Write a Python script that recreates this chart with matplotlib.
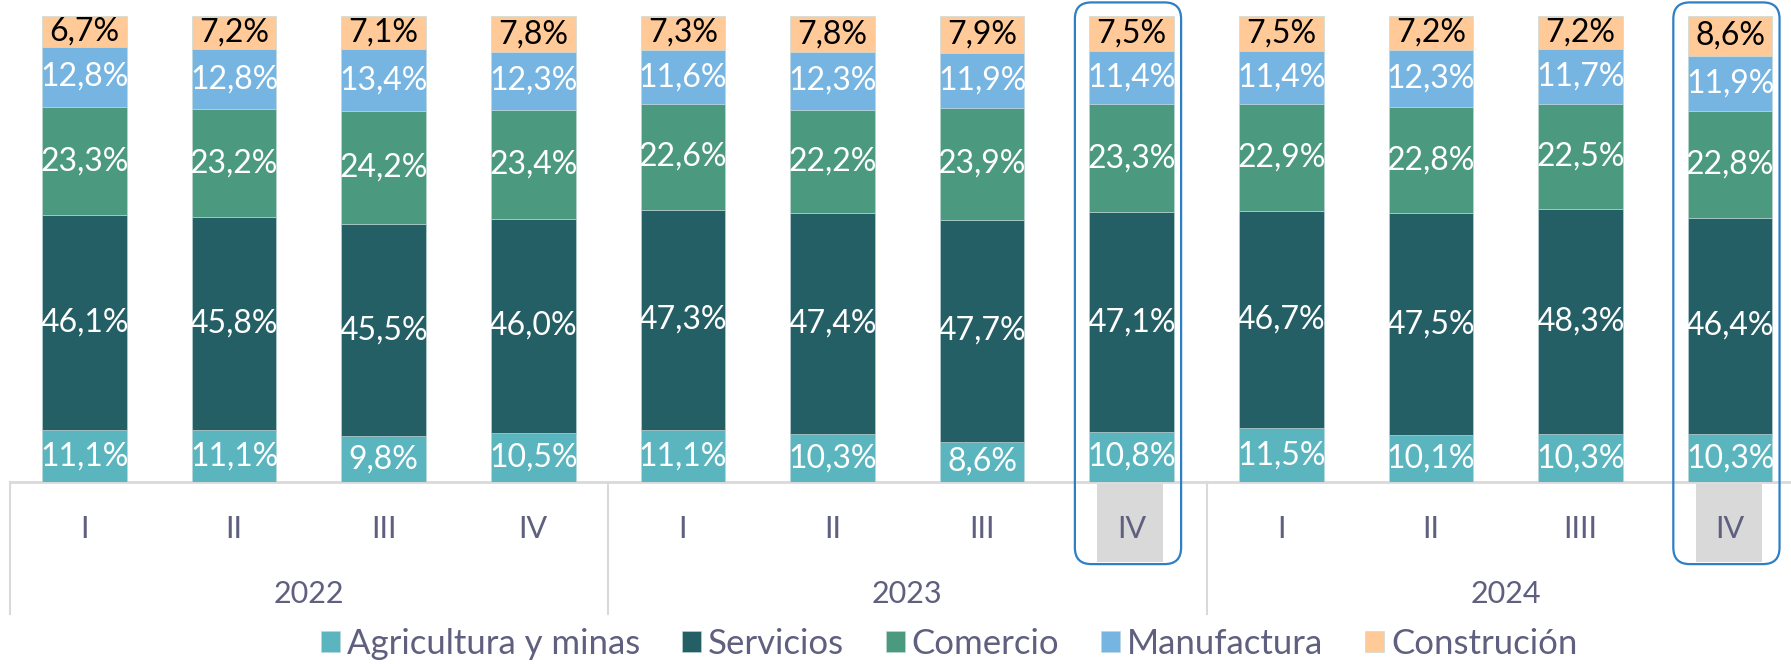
import numpy as np
import matplotlib.pyplot as plt
from matplotlib.patches import FancyBboxPatch, Rectangle

plt.rcParams['font.family'] = ['Lato', 'DejaVu Sans']

quarters = ["I", "II", "III", "IV", "I", "II", "III", "IV", "I", "II", "IIII", "IV"]
years = ["2022", "2023", "2024"]
highlight = [7, 11]

sectors = ["Agricultura y minas", "Servicios", "Comercio", "Manufactura", "Construción"]
colors = ["#5AB5BF", "#255F66", "#4B9A80", "#76B5E2", "#FFCA98"]
text_colors = ["white", "white", "white", "white", "black"]

agricultura = [11.1, 11.1, 9.8, 10.5, 11.1, 10.3, 8.6, 10.8, 11.5, 10.1, 10.3, 10.3]
servicios = [46.1, 45.8, 45.5, 46.0, 47.3, 47.4, 47.7, 47.1, 46.7, 47.5, 48.3, 46.4]
comercio = [23.3, 23.2, 24.2, 23.4, 22.6, 22.2, 23.9, 23.3, 22.9, 22.8, 22.5, 22.8]
manufactura = [12.8, 12.8, 13.4, 12.3, 11.6, 12.3, 11.9, 11.4, 11.4, 12.3, 11.7, 11.9]
construccion = [6.7, 7.2, 7.1, 7.8, 7.3, 7.8, 7.9, 7.5, 7.5, 7.2, 7.2, 8.6]

series = [agricultura, servicios, comercio, manufactura, construccion]
vals = np.array(series)
shares = vals / vals.sum(axis=0) * 100

W, H, DPI = 17.91, 6.64, 100
fig = plt.figure(figsize=(W, H), dpi=DPI)
ax_l, ax_b, ax_w, ax_h = 0.0054, 0.274, 1.0024, 0.702
ax = fig.add_axes([ax_l, ax_b, ax_w, ax_h])
n = len(quarters)
x = np.arange(n)
ax.set_xlim(-0.5, n - 0.5)
ax.set_ylim(0, 100)
ax.axis("off")

# rounded highlight boxes (drawn first, behind bars)
px_x = ax_w * W * DPI / n
px_y = ax_h * H * DPI / 100
aspect = px_x / px_y
for i in highlight:
    ax.add_patch(Rectangle((i - 0.23, -17.2), 0.44, 16.7, facecolor="#D9D9D9",
                           edgecolor="none", clip_on=False, zorder=0))
    ax.add_patch(FancyBboxPatch((i - 0.38, -17.6), 0.71, 120.5,
                                boxstyle="round,pad=0,rounding_size=0.11",
                                mutation_aspect=aspect, facecolor="none",
                                edgecolor="#2E7FC4", lw=1.6, clip_on=False, zorder=5))

bottom = np.zeros(n)
for k, name in enumerate(sectors):
    ax.bar(x, shares[k], width=0.565, bottom=bottom, color=colors[k],
           edgecolor="#BFD8D8", linewidth=0.4, label=name, zorder=2)
    for i in range(n):
        lbl = f"{vals[k, i]:.1f}%".replace(".", ",")
        ax.text(i, bottom[i] + shares[k, i] / 2, lbl, ha="center", va="center",
                color=text_colors[k], fontsize=23, zorder=3)
    bottom += shares[k]

# category axis
ax.plot([-0.5, n - 0.5], [0, 0], color="#D9D9D9", lw=2, clip_on=False, zorder=1)
for xs in [-0.5, 3.5, 7.5, 11.5]:
    ax.plot([xs, xs], [0, -28.2], color="#D9D9D9", lw=1.5, clip_on=False, zorder=1)
tick_color = "#5F5F7F"
for i, q in enumerate(quarters):
    ax.text(i, -10.0, q, ha="center", va="center", fontsize=22,
            color=tick_color, clip_on=False)
for j, yr in enumerate(years):
    ax.text(4 * j + 1.5, -24.0, yr, ha="center", va="center", fontsize=22,
            color=tick_color, clip_on=False)

leg = fig.legend(loc="center", bbox_to_anchor=(0.530, 0.03), ncol=5, frameon=False,
                 fontsize=25, handlelength=0.55, handleheight=0.55,
                 handletextpad=0.2, columnspacing=1.2)
for t in leg.get_texts():
    t.set_color(tick_color)

fig.savefig("out.png", dpi=DPI)
